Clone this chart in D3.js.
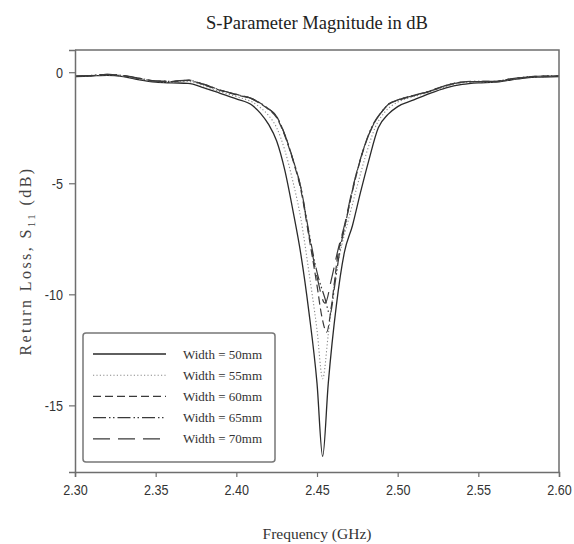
<!DOCTYPE html>
<html>
<head>
<meta charset="utf-8">
<script src="https://cdn.jsdelivr.net/npm/d3@7"></script>
<style>
  body { margin: 0; background: #fff; }
  svg { display: block; }
</style>
</head>
<body>
<svg id="chart" width="574" height="544"></svg>
<script>
// S11 curves, [frequency GHz, dB]
const w50 = [[2.300,-0.20],[2.310,-0.17],[2.320,-0.14],[2.330,-0.20],[2.340,-0.35],[2.350,-0.45],[2.360,-0.48],
  [2.370,-0.50],[2.380,-0.70],[2.390,-0.95],[2.400,-1.20],[2.410,-1.50],[2.415,-1.85],[2.420,-2.35],[2.425,-3.10],
  [2.430,-4.40],[2.435,-6.20],[2.440,-8.20],[2.445,-10.8],[2.450,-14.0],[2.4535,-17.3],[2.457,-14.0],[2.462,-10.5],
  [2.467,-8.1],[2.472,-6.9],[2.477,-5.4],[2.482,-4.0],[2.488,-2.5],[2.494,-1.9],[2.500,-1.55],[2.510,-1.25],
  [2.520,-0.95],[2.530,-0.70],[2.540,-0.55],[2.550,-0.48],[2.560,-0.45],[2.570,-0.35],[2.580,-0.25],[2.590,-0.22],[2.600,-0.20]];

const w55 = [[2.300,-0.20],[2.310,-0.16],[2.320,-0.12],[2.330,-0.18],[2.340,-0.30],[2.350,-0.42],[2.360,-0.45],
  [2.370,-0.42],[2.380,-0.62],[2.390,-0.88],[2.400,-1.10],[2.410,-1.35],[2.415,-1.60],[2.420,-1.95],[2.425,-2.50],
  [2.430,-3.50],[2.435,-4.90],[2.440,-6.60],[2.445,-9.0],[2.450,-11.6],[2.4535,-13.8],[2.457,-11.8],[2.461,-9.4],
  [2.465,-7.9],[2.470,-6.5],[2.475,-5.1],[2.480,-3.8],[2.486,-2.5],[2.492,-1.8],[2.500,-1.35],[2.510,-1.10],
  [2.520,-0.90],[2.530,-0.65],[2.540,-0.48],[2.550,-0.44],[2.560,-0.43],[2.570,-0.33],[2.580,-0.23],[2.590,-0.20],[2.600,-0.18]];

const w60 = [[2.300,-0.19],[2.310,-0.15],[2.320,-0.11],[2.330,-0.16],[2.340,-0.28],[2.350,-0.40],[2.360,-0.42],
  [2.370,-0.37],[2.380,-0.57],[2.390,-0.82],[2.400,-1.02],[2.410,-1.22],[2.415,-1.42],[2.420,-1.68],[2.425,-2.05],
  [2.430,-2.85],[2.435,-3.95],[2.440,-5.3],[2.445,-7.4],[2.450,-9.6],[2.453,-11.0],[2.456,-11.7],[2.459,-10.5],
  [2.463,-8.2],[2.467,-7.0],[2.4715,-5.5],[2.4765,-4.05],[2.484,-2.5],[2.490,-1.8],[2.495,-1.42],[2.500,-1.27],
  [2.510,-1.06],[2.520,-0.86],[2.530,-0.60],[2.540,-0.45],[2.550,-0.42],[2.560,-0.41],[2.570,-0.31],[2.580,-0.22],[2.590,-0.18],[2.600,-0.17]];

const w65 = [[2.300,-0.18],[2.310,-0.14],[2.320,-0.10],[2.330,-0.15],[2.340,-0.27],[2.350,-0.39],[2.360,-0.41],
  [2.370,-0.36],[2.380,-0.55],[2.390,-0.80],[2.400,-1.00],[2.410,-1.20],[2.415,-1.40],[2.420,-1.65],[2.425,-2.00],
  [2.430,-2.80],[2.435,-3.90],[2.440,-5.2],[2.445,-7.2],[2.450,-9.0],[2.455,-10.2],[2.458,-10.9],[2.461,-9.6],
  [2.464,-8.1],[2.468,-6.7],[2.472,-5.3],[2.477,-3.9],[2.484,-2.45],[2.490,-1.78],[2.495,-1.40],[2.500,-1.25],
  [2.510,-1.04],[2.520,-0.84],[2.530,-0.59],[2.540,-0.44],[2.550,-0.41],[2.560,-0.41],[2.570,-0.30],[2.580,-0.21],[2.590,-0.17],[2.600,-0.16]];

const w70 = [[2.300,-0.18],[2.310,-0.15],[2.320,-0.10],[2.330,-0.15],[2.340,-0.28],[2.350,-0.40],[2.360,-0.40],
  [2.370,-0.35],[2.380,-0.55],[2.390,-0.80],[2.400,-1.00],[2.410,-1.20],[2.415,-1.40],[2.420,-1.65],[2.425,-2.00],
  [2.430,-2.80],[2.435,-3.90],[2.440,-5.2],[2.445,-7.3],[2.450,-9.2],[2.455,-10.4],[2.459,-9.3],[2.463,-8.0],
  [2.467,-6.9],[2.4715,-5.4],[2.4765,-4.0],[2.484,-2.5],[2.490,-1.8],[2.495,-1.40],[2.500,-1.25],[2.510,-1.05],
  [2.520,-0.85],[2.530,-0.60],[2.540,-0.45],[2.550,-0.42],[2.560,-0.42],[2.570,-0.32],[2.580,-0.22],[2.590,-0.18],[2.600,-0.17]];

const seriesLabels = ["Width = 50mm", "Width = 55mm", "Width = 60mm", "Width = 65mm", "Width = 70mm"];
const xTicks = [2.30, 2.35, 2.40, 2.45, 2.50, 2.55, 2.60];
const yTicks = [0, -5, -10, -15];

let canvas = {"width": 574, "height": 544,
  "left": 75, "right": 559, "top": 50, "bottom": 472};

let allSeries = [w50, w55, w60, w65, w70];

// line look per series: colour, width, dash
let styles = [
  {"stroke": "#2a2a2a", "width": 1.3, "dash": null},
  {"stroke": "#8a8a8a", "width": 1.1, "dash": "1.2,2.2"},
  {"stroke": "#3a3a3a", "width": 1.2, "dash": "8,4"},
  {"stroke": "#3a3a3a", "width": 1.2, "dash": "13,3,1.5,2.5,1.5,3"},
  {"stroke": "#3a3a3a", "width": 1.2, "dash": "17,8"}
];

let svg = d3.select("#chart");

let xScale = d3.scaleLinear()
  .domain([2.30, 2.60])
  .range([canvas.left, canvas.right]);

let yScale = d3.scaleLinear()
  .domain([-18, 1])
  .range([canvas.bottom, canvas.top]);

svg.append("defs").append("clipPath")
  .attr("id", "plot-clip")
  .append("rect")
  .attr("x", canvas.left)
  .attr("y", canvas.top)
  .attr("width", canvas.right - canvas.left)
  .attr("height", canvas.bottom - canvas.top);

// title
svg.append("text")
  .attr("x", (canvas.left + canvas.right) / 2)
  .attr("y", 29)
  .attr("text-anchor", "middle")
  .attr("font-family", "Liberation Serif, Times New Roman, serif")
  .attr("font-size", 19)
  .attr("fill", "#222")
  .attr("textLength", 222)
  .attr("lengthAdjust", "spacingAndGlyphs")
  .text("S-Parameter Magnitude in dB");

// curves
let line = d3.line()
  .x(d => xScale(d[0]))
  .y(d => yScale(d[1]))
  .curve(d3.curveMonotoneX);

svg.append("g")
  .attr("clip-path", "url(#plot-clip)")
  .selectAll(".curve")
  .data(allSeries)
  .join("path")
  .attr("class", "curve")
  .attr("d", line)
  .attr("fill", "none")
  .attr("stroke", (d, i) => styles[i].stroke)
  .attr("stroke-width", (d, i) => styles[i].width)
  .attr("stroke-dasharray", (d, i) => styles[i].dash);

// frame (top and right)
svg.append("path")
  .attr("d", `M${canvas.left},${canvas.top}H${canvas.right}V${canvas.bottom}`)
  .attr("fill", "none")
  .attr("stroke", "#6e6e6e")
  .attr("stroke-width", 1.5);

let tickFont = "Liberation Sans, Arial, sans-serif";
let squeeze = 0.84; // tick labels look condensed

let xAxis = d3.axisBottom(xScale)
  .tickValues(xTicks)
  .tickFormat(d3.format(".2f"))
  .tickSize(5)
  .tickPadding(7);

let gx = svg.append("g")
  .attr("transform", `translate(0, ${canvas.bottom})`)
  .call(xAxis);

let yAxis = d3.axisLeft(yScale)
  .tickValues(yTicks)
  .tickFormat(d => String(d))
  .tickSize(6)
  .tickPadding(6);

let gy = svg.append("g")
  .attr("transform", `translate(${canvas.left}, 0)`)
  .call(yAxis);

for (let g of [gx, gy]) {
  g.select(".domain").attr("stroke", "#6e6e6e").attr("stroke-width", 1.5);
  g.selectAll(".tick line").attr("stroke", "#6e6e6e").attr("stroke-width", 1.2);
  g.selectAll(".tick text")
    .attr("font-family", tickFont)
    .attr("font-size", 15)
    .attr("fill", "#333")
    .attr("transform", `scale(${squeeze},1)`);
}
gy.selectAll(".tick text").attr("x", -12 / squeeze);

// axis titles
svg.append("text")
  .attr("x", (canvas.left + canvas.right) / 2)
  .attr("y", 539)
  .attr("text-anchor", "middle")
  .attr("font-family", "Liberation Serif, Times New Roman, serif")
  .attr("font-size", 15.5)
  .attr("fill", "#333")
  .text("Frequency (GHz)");

let yTitle = svg.append("text")
  .attr("transform", `translate(31, ${(canvas.top + canvas.bottom) / 2}) rotate(-90)`)
  .attr("text-anchor", "middle")
  .attr("font-family", "Liberation Serif, Times New Roman, serif")
  .attr("font-size", 16)
  .attr("letter-spacing", 2.4)
  .attr("fill", "#444");
yTitle.append("tspan").text("Return Loss, S");
yTitle.append("tspan").attr("font-size", 11).attr("dy", 4).text("11");
yTitle.append("tspan").attr("dy", -4).text(" (dB)");

// legend
let legend = svg.append("g");

legend.append("rect")
  .attr("x", 83)
  .attr("y", 333)
  .attr("width", 192)
  .attr("height", 129)
  .attr("rx", 3)
  .attr("fill", "#fff")
  .attr("stroke", "#777")
  .attr("stroke-width", 1.5);

let rowY = (d, i) => 354 + 21.2 * i;

legend.selectAll(".legendline")
  .data(seriesLabels)
  .join("line")
  .attr("class", "legendline")
  .attr("x1", 93)
  .attr("x2", 166)
  .attr("y1", rowY)
  .attr("y2", rowY)
  .attr("stroke", (d, i) => styles[i].stroke)
  .attr("stroke-width", (d, i) => styles[i].width)
  .attr("stroke-dasharray", (d, i) => styles[i].dash);

legend.selectAll(".legendtext")
  .data(seriesLabels)
  .join("text")
  .attr("class", "legendtext")
  .attr("x", 183)
  .attr("y", (d, i) => rowY(d, i) + 4.5)
  .attr("font-family", "Liberation Serif, Times New Roman, serif")
  .attr("font-size", 13)
  .attr("fill", "#333")
  .text(d => d);
</script>
</body>
</html>
